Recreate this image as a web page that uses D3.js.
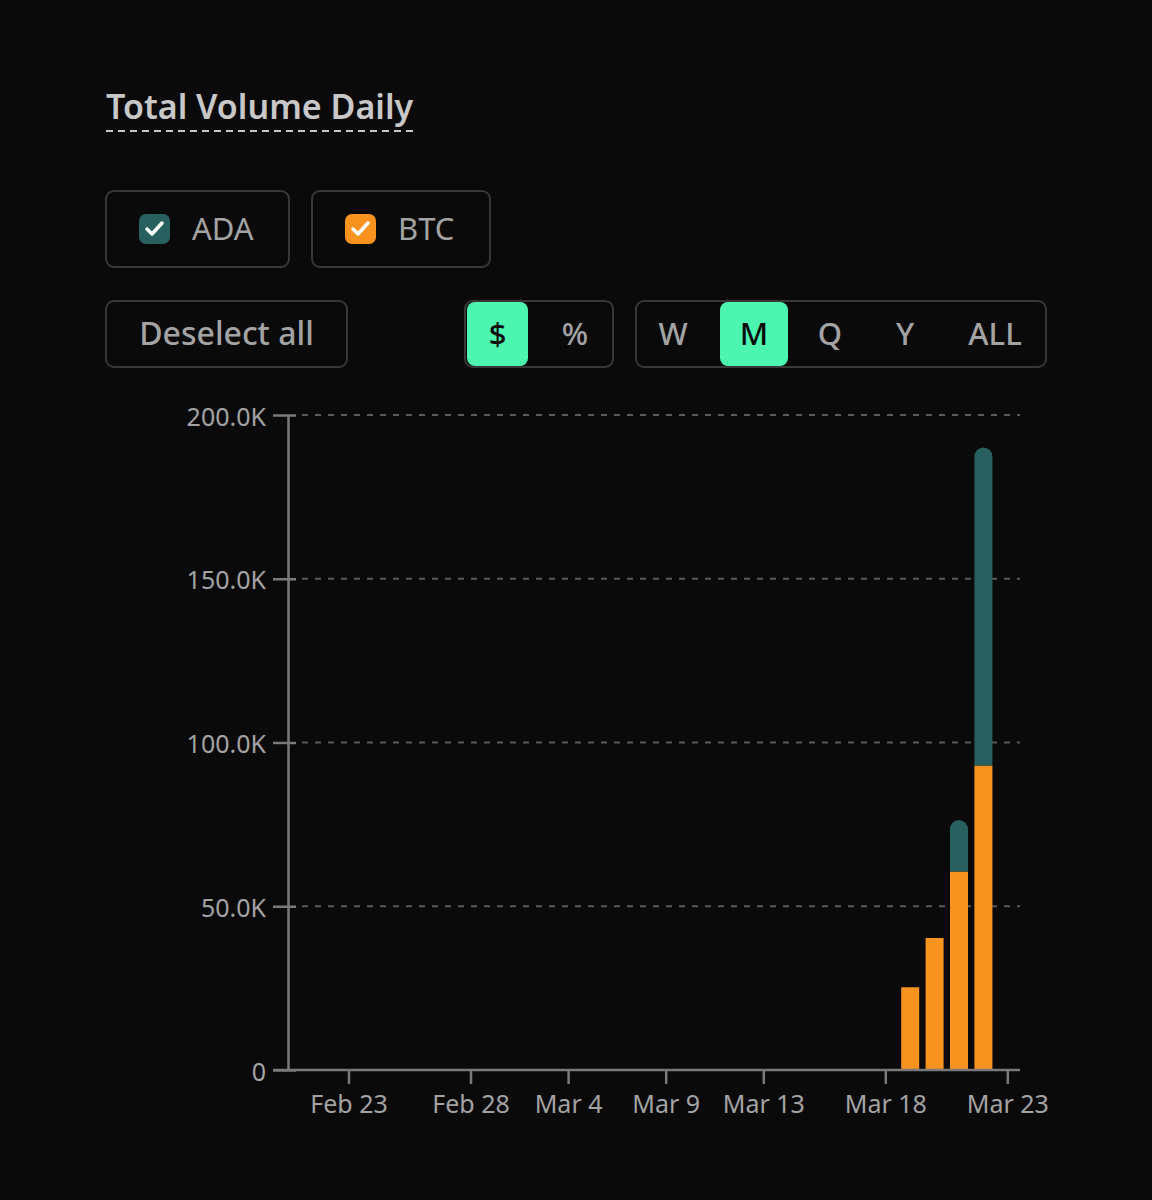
<!DOCTYPE html>
<html>
<head>
<meta charset="utf-8">
<script src="https://cdn.jsdelivr.net/npm/d3@7"></script>
<style>
  html, body { margin: 0; padding: 0; background: #0a0a0a; }
  svg { display: block; }
</style>
</head>
<body>
<svg id="chart" width="1152" height="1200"></svg>
<script>
// ---- Data ----
const days = ["Feb 21","Feb 22","Feb 23","Feb 24","Feb 25","Feb 26","Feb 27","Feb 28",
  "Mar 1","Mar 2","Mar 3","Mar 4","Mar 5","Mar 7","Mar 8","Mar 9",
  "Mar 10","Mar 11","Mar 12","Mar 13","Mar 14","Mar 15","Mar 16","Mar 17",
  "Mar 18","Mar 19","Mar 20","Mar 21","Mar 22","Mar 23"];
const xTickLabels = ["Feb 23","Feb 28","Mar 4","Mar 9","Mar 13","Mar 18","Mar 23"];
const barDays = ["Mar 19","Mar 20","Mar 21","Mar 22"];
const btcValues = [25300, 40300, 60600, 93000];
const adaValues = [0, 0, 15700, 97100];
const seriesKeys = ["BTC","ADA"];
const yTicks = [0, 50000, 100000, 150000, 200000];
const legendItems = ["ADA","BTC"];
const unitOptions = ["$","%"];
const rangeOptions = ["W","M","Q","Y","ALL"];

const colors = { ADA: "#285f5f", BTC: "#f7931e" };
const mint = "#4cf5b0";
const textGray = "#a3a3a3";
const borderGray = "#383838";
const FONT = "'Noto Sans', 'Open Sans', sans-serif";

const svg = d3.select("#chart");
svg.append("rect").attr("width",1152).attr("height",1200).attr("fill","#0a0a0a");

// ---- Title ----
const title = svg.append("text")
  .attr("x",106).attr("y",119)
  .attr("font-family",FONT).attr("font-size",34).attr("font-weight",600)
  .attr("fill","#c8c8c8").text("Total Volume Daily");
const tw = title.node().getComputedTextLength();
svg.append("line").attr("x1",106).attr("x2",106+tw).attr("y1",131).attr("y2",131)
  .attr("stroke","#c8c8c8").attr("stroke-width",2).attr("stroke-dasharray","7,5");

// ---- Legend buttons ----
const legendX = [106, 312];
const legendW = [183, 178];
legendItems.forEach((k,i) => {
  const g = svg.append("g").attr("transform",`translate(${legendX[i]},191)`);
  g.append("rect").attr("x",0).attr("y",0).attr("width",legendW[i]).attr("height",76)
    .attr("rx",8).attr("fill","none").attr("stroke",borderGray).attr("stroke-width",2);
  g.append("rect").attr("x",33).attr("y",23).attr("width",31).attr("height",30)
    .attr("rx",7).attr("fill",colors[k]);
  g.append("path").attr("d","M41,38 L46,43 L56,32").attr("fill","none")
    .attr("stroke","#ffffff").attr("stroke-width",3.5).attr("stroke-linecap","round").attr("stroke-linejoin","round");
  g.append("text").attr("x",86).attr("y",49).attr("font-family",FONT).attr("font-size",31)
    .attr("fill",textGray).text(k);
});

// ---- Deselect all ----
svg.append("rect").attr("x",106).attr("y",301).attr("width",241).attr("height",66)
  .attr("rx",8).attr("fill","none").attr("stroke",borderGray).attr("stroke-width",2);
svg.append("text").attr("x",226.5).attr("y",345).attr("text-anchor","middle")
  .attr("font-family",FONT).attr("font-size",32).attr("font-weight",500).attr("fill",textGray).text("Deselect all");

// ---- $ / % toggle ----
svg.append("rect").attr("x",465).attr("y",301).attr("width",148).attr("height",66)
  .attr("rx",8).attr("fill","none").attr("stroke",borderGray).attr("stroke-width",2);
const unitCenters = [497.5, 575];
svg.append("rect").attr("x",467).attr("y",302).attr("width",61).attr("height",64)
  .attr("rx",8).attr("fill",mint);
unitOptions.forEach((u,i) => {
  svg.append("text").attr("x",unitCenters[i]).attr("y",345).attr("text-anchor","middle")
    .attr("font-family",FONT).attr("font-size",31).attr("font-weight", 500)
    .attr("fill", i===0 ? "#0a0a0a" : textGray).text(u);
});

// ---- Range toggle ----
svg.append("rect").attr("x",636).attr("y",301).attr("width",410).attr("height",66)
  .attr("rx",8).attr("fill","none").attr("stroke",borderGray).attr("stroke-width",2);
svg.append("rect").attr("x",720).attr("y",302).attr("width",68).attr("height",64)
  .attr("rx",8).attr("fill",mint);
const rangeCenters = [673, 754, 830, 905, 995];
rangeOptions.forEach((r,i) => {
  svg.append("text").attr("x",rangeCenters[i]).attr("y",345).attr("text-anchor","middle")
    .attr("font-family",FONT).attr("font-size",31).attr("font-weight", 500)
    .attr("fill", i===1 ? "#0a0a0a" : textGray).text(r);
});

// ---- Chart ----
const axisColor = "#7a7a7a";
const x = d3.scaleBand().domain(days).range([288, 1020]).paddingInner(0.28).paddingOuter(0.14);
const xCenter = d => x(d) + x.bandwidth()/2;
const y = d3.scaleLinear().domain([0, 200000]).range([1070, 415]);

// gridlines
svg.append("g").selectAll("line").data(yTicks.filter(d => d > 0)).join("line")
  .attr("x1",302).attr("x2",1020).attr("y1",d => y(d)).attr("y2",d => y(d))
  .attr("stroke","#5a5a5a").attr("stroke-width",2).attr("stroke-dasharray","6,7");

// bars
const table = barDays.map((d,i) => ({day:d, BTC:btcValues[i], ADA:adaValues[i]}));
const stacked = d3.stack().keys(seriesKeys)(table);
const r = 9;
stacked.forEach(layer => {
  const key = layer.key;
  svg.append("g").selectAll("path").data(layer.filter(s => s[1] - s[0] > 0)).join("path")
    .attr("fill", colors[key])
    .attr("d", s => {
      const x0 = xCenter(s.data.day) - 9, w = 18;
      const yTop = y(s[1]), yBot = y(s[0]);
      if (key === "ADA") {
        return `M${x0},${yBot} L${x0},${yTop + r} A${r},${r} 0 0 1 ${x0 + r},${yTop} L${x0 + w - r},${yTop} A${r},${r} 0 0 1 ${x0 + w},${yTop + r} L${x0 + w},${yBot} Z`;
      }
      return `M${x0},${yBot} L${x0},${yTop} L${x0 + w},${yTop} L${x0 + w},${yBot} Z`;
    });
});

// y axis
const yAxis = svg.append("g").attr("transform","translate(288,0)")
  .call(d3.axisLeft(y).tickValues(yTicks)
    .tickFormat(d => d === 0 ? "0" : (d/1000).toFixed(1) + "K")
    .tickSize(15).tickSizeOuter(0).tickPadding(7));
yAxis.select(".domain").attr("stroke",axisColor).attr("stroke-width",2.5);
yAxis.selectAll(".tick line").attr("stroke",axisColor).attr("stroke-width",2.5).attr("x2",-15).attr("x1",8);
yAxis.selectAll(".tick text").attr("fill",textGray).attr("font-family",FONT).attr("font-size",25).attr("dy","0.4em");

// x axis
const xAxis = svg.append("g").attr("transform","translate(0,1070)")
  .call(d3.axisBottom(x).tickValues(xTickLabels).tickSize(14).tickSizeOuter(0).tickPadding(11));
xAxis.select(".domain").remove();
xAxis.selectAll(".tick line").attr("stroke",axisColor).attr("stroke-width",2.5);
xAxis.selectAll(".tick text").attr("fill",textGray).attr("font-family",FONT).attr("font-size",25);
xAxis.append("line").attr("x1",273).attr("x2",1020).attr("y1",0).attr("y2",0)
  .attr("stroke",axisColor).attr("stroke-width",2.5);
</script>
</body>
</html>
